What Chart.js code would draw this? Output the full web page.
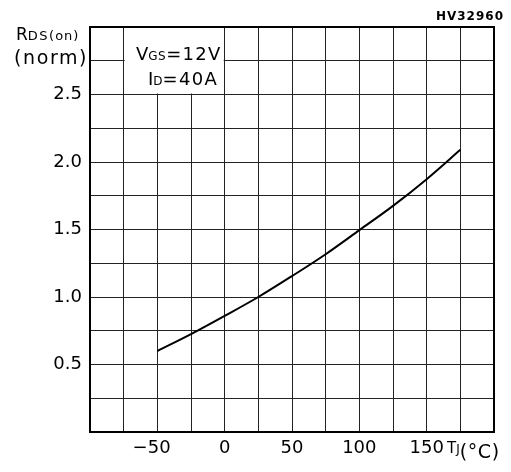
<!DOCTYPE html>
<html>
<head>
<meta charset="utf-8">
<script src="https://cdn.jsdelivr.net/npm/chart.js@4/dist/chart.umd.min.js"></script>
<style>
  body { margin: 0; background: #fff; }
  #wrap { width: 511px; height: 472px; }
</style>
</head>
<body>
<div id="wrap"><canvas id="rdsChart" width="511" height="472"></canvas></div>
<script>
// Tj (°C) vs normalized Rds(on)
const junctionTemps = [-50, -25, 0, 25, 50, 75, 100, 125, 150, 175];
const rdsNorm = [0.60, 0.725, 0.86, 1.0, 1.155, 1.317, 1.495, 1.675, 1.873, 2.09];

const xTickLabels = [-50, 0, 50, 100, 150];
const yTickLabels = [0.5, 1.0, 1.5, 2.0, 2.5];

const FONT = "'DejaVu Sans', sans-serif";

// draw a run of text pieces with different sizes, left to right
function drawRuns(ctx, x, y, runs) {
    runs.forEach(r => {
        ctx.font = (r.bold ? 'bold ' : '') + r.size + 'px ' + FONT;
        ctx.letterSpacing = (r.spacing || 0) + 'px';
        ctx.fillText(r.text, x, y + (r.dy || 0));
        x += ctx.measureText(r.text).width;
    });
}

const decorations = {
    id: 'decorations',
    beforeDatasetsDraw(chart) {
        // white box for the test conditions, on top of the grid
        const ctx = chart.ctx;
        const xs = chart.scales.x, ys = chart.scales.y;
        const left = xs.getPixelForValue(-75), right = xs.getPixelForValue(0);
        const top = ys.getPixelForValue(3.0), bottom = ys.getPixelForValue(2.5);
        ctx.save();
        ctx.fillStyle = '#fff';
        ctx.fillRect(left + 1, top + 1, right - left - 2, bottom - top - 2);
        ctx.restore();
    },
    afterDraw(chart) {
        const ctx = chart.ctx;
        const a = chart.chartArea;
        ctx.save();
        // frame
        ctx.strokeStyle = '#000';
        ctx.lineWidth = 2;
        ctx.strokeRect(a.left, a.top, a.right - a.left, a.bottom - a.top);

        ctx.fillStyle = '#000';
        ctx.textBaseline = 'alphabetic';
        ctx.textAlign = 'left';

        // y axis title
        drawRuns(ctx, 16, 40, [
            { text: 'R', size: 17 },
            { text: 'DS', size: 13, spacing: 1.5 },
            { text: '(on)', size: 13, spacing: 1 }
        ]);
        drawRuns(ctx, 14, 64, [{ text: '(norm)', size: 19, spacing: 1.6 }]);

        // conditions
        drawRuns(ctx, 136, 60, [
            { text: 'V', size: 18 },
            { text: 'GS', size: 12, spacing: 0.5 },
            { text: '=12V', size: 18, spacing: 1.3 }
        ]);
        drawRuns(ctx, 148, 85, [
            { text: 'I', size: 18 },
            { text: 'D', size: 12 },
            { text: '=40A', size: 18, spacing: 1.3 }
        ]);

        // x axis title
        drawRuns(ctx, 447, 453, [
            { text: 'T', size: 15 },
            { text: 'J', size: 12 },
            { text: '(°C)', size: 19, spacing: 0.6, dy: 5 }
        ]);

        // figure id
        ctx.textAlign = 'right';
        ctx.font = 'bold 12px ' + FONT;
        ctx.letterSpacing = '1px';
        ctx.fillText('HV32960', 504, 20);
        ctx.restore();
    }
};

function xLabel(v) {
    if (!xTickLabels.includes(v)) return '';
    // keep the digits centred on the grid line, the minus hangs left
    return v < 0 ? '\u2212' + Math.abs(v) + '\u2007' : String(v);
}

const ctx = document.getElementById('rdsChart').getContext('2d');
const rdsChart = new Chart(ctx, {
    type: 'line',
    data: {
        datasets: [{
            data: junctionTemps.map((t, i) => ({ x: t, y: rdsNorm[i] })),
            borderColor: '#000',
            borderWidth: 2,
            pointRadius: 0,
            fill: false,
            cubicInterpolationMode: 'monotone'
        }]
    },
    options: {
        responsive: false,
        animation: false,
        layout: { padding: { top: 27, right: 17, left: 0, bottom: 0 } },
        plugins: { legend: { display: false }, tooltip: { enabled: false } },
        scales: {
            x: {
                type: 'linear',
                min: -100,
                max: 200,
                afterFit: scale => { scale.height = 40; },
                afterBuildTicks: scale => {
                    scale.ticks = [];
                    for (let v = -100; v <= 200; v += 25) scale.ticks.push({ value: v });
                },
                ticks: {
                    autoSkip: false,
                    maxRotation: 0,
                    padding: 6,
                    color: '#000',
                    font: { family: FONT, size: 18 },
                    callback: xLabel
                },
                grid: { color: '#222', lineWidth: 1, drawTicks: false },
                border: { display: false }
            },
            y: {
                min: 0,
                max: 3,
                afterFit: scale => { scale.width = 90; },
                afterBuildTicks: scale => {
                    scale.ticks = [];
                    for (let i = 0; i <= 12; i++) scale.ticks.push({ value: i * 0.25 });
                },
                ticks: {
                    autoSkip: false,
                    padding: 8,
                    color: '#000',
                    font: { family: FONT, size: 18 },
                    callback: v => yTickLabels.some(t => Math.abs(t - v) < 1e-6) ? v.toFixed(1) : ''
                },
                grid: { color: '#222', lineWidth: 1, drawTicks: false },
                border: { display: false }
            }
        }
    },
    plugins: [decorations]
});
</script>
</body>
</html>
